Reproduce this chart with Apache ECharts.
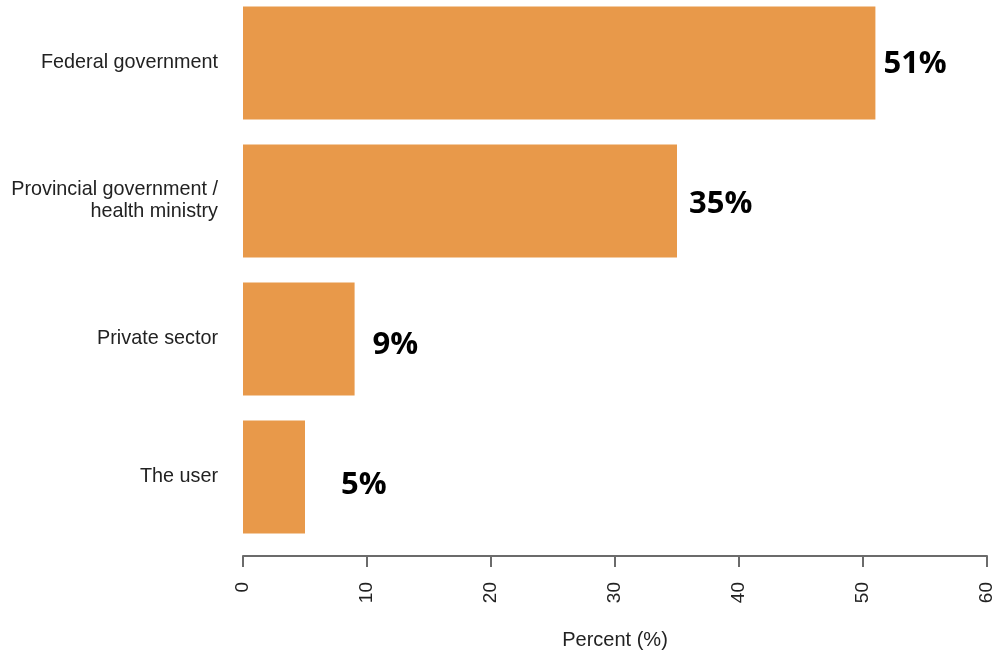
<!DOCTYPE html>
<html>
<head>
<meta charset="utf-8">
<script src="https://cdn.jsdelivr.net/npm/echarts@6/dist/echarts.min.js"></script>
<style>
  html, body { margin: 0; padding: 0; background: #ffffff; }
  #chart { width: 992px; height: 650px; }
</style>
</head>
<body>
<div id="chart"></div>
<script>
// Who should pay: share of respondents (%)
const categories = [
  'Federal government',
  'Provincial government /\nhealth ministry',
  'Private sector',
  'The user'
];
const percentValues = [51, 35, 9, 5];
const xTicks = [0, 10, 20, 30, 40, 50, 60];

// Hand-placed label nudges [dx, dy] for each bar's value label
const labelNudges = [[2, 1], [6, 3], [12, 6], [30, 8]];

const chart = echarts.init(document.getElementById('chart'), null, { renderer: 'canvas' });

const seriesData = percentValues.map((v, i) => ({
  value: v,
  label: { offset: labelNudges[i] }
}));

chart.setOption({
  animation: false,
  backgroundColor: '#ffffff',
  grid: {
    left: 243, right: 5, top: -6, height: 552,
    containLabel: false,
    outerBoundsMode: 'none'
  },
  xAxis: {
    type: 'value',
    min: xTicks[0],
    max: xTicks[xTicks.length - 1],
    interval: 10,
    offset: 10,
    name: 'Percent (%)',
    nameLocation: 'middle',
    nameGap: 74,
    nameTextStyle: { fontFamily: 'Liberation Sans', fontSize: 20, color: '#222' },
    axisLine: { show: true, lineStyle: { color: '#6b6b6b', width: 2 } },
    axisTick: { show: true, length: 11, lineStyle: { color: '#6b6b6b', width: 2 } },
    axisLabel: {
      rotate: 90,
      margin: 26,
      fontFamily: 'Liberation Sans',
      fontSize: 19,
      color: '#222'
    },
    splitLine: { show: false }
  },
  yAxis: {
    type: 'category',
    data: categories,
    inverse: true,
    axisLine: { show: false },
    axisTick: { show: false },
    axisLabel: {
      margin: 25,
      fontFamily: 'Liberation Sans',
      fontSize: 19.8,
      lineHeight: 22,
      color: '#222',
      align: 'right'
    }
  },
  series: [{
    type: 'bar',
    data: seriesData,
    barCategoryGap: '18%',
    itemStyle: { color: '#E8994A' },
    label: {
      show: true,
      position: 'right',
      distance: 6,
      formatter: p => p.value + '%',
      fontFamily: 'Open Sans',
      fontWeight: 'bold',
      fontSize: 31,
      color: '#000'
    }
  }]
});
</script>
</body>
</html>
